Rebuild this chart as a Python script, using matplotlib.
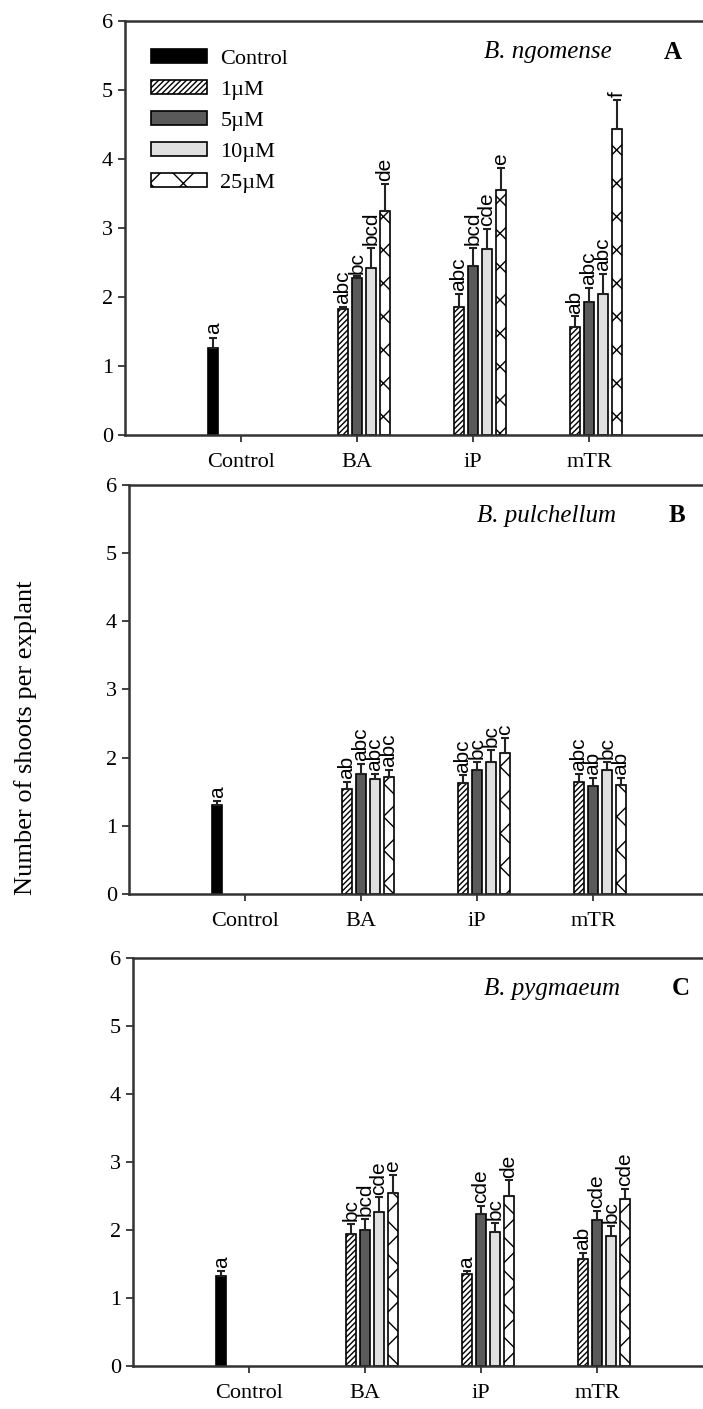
import numpy as np
import matplotlib
matplotlib.use('Agg')
import matplotlib.pyplot as plt

plt.rcParams['font.family'] = ['Liberation Serif', 'DejaVu Serif']
plt.rcParams['hatch.linewidth'] = 1.0

# categories and series
groups = ['Control', 'BA', 'iP', 'mTR']
series = ['1µM', '5µM', '10µM', '25µM']

# panel A - B. ngomense
ngo_control = 1.26
ngo_control_err = 0.15
ngo_means = {'BA': [1.83, 2.28, 2.42, 3.25],
             'iP': [1.86, 2.45, 2.70, 3.55],
             'mTR': [1.57, 1.93, 2.04, 4.43]}
ngo_err = {'BA': [0.03, 0.02, 0.29, 0.39],
           'iP': [0.18, 0.26, 0.29, 0.32],
           'mTR': [0.15, 0.20, 0.29, 0.43]}
ngo_letters = {'Control': 'a',
               'BA': ['abc', 'bc', 'bcd', 'de'],
               'iP': ['abc', 'bcd', 'cde', 'e'],
               'mTR': ['ab', 'abc', 'abc', 'f']}

# panel B - B. pulchellum
pul_control = 1.30
pul_control_err = 0.06
pul_means = {'BA': [1.54, 1.76, 1.68, 1.71],
             'iP': [1.63, 1.82, 1.94, 2.07],
             'mTR': [1.65, 1.58, 1.82, 1.60]}
pul_err = {'BA': [0.11, 0.15, 0.08, 0.11],
           'iP': [0.11, 0.12, 0.17, 0.22],
           'mTR': [0.11, 0.12, 0.12, 0.10]}
pul_letters = {'Control': 'a',
               'BA': ['ab', 'abc', 'abc', 'abc'],
               'iP': ['abc', 'bc', 'bc', 'c'],
               'mTR': ['abc', 'ab', 'bc', 'ab']}

# panel C - B. pygmaeum
pyg_control = 1.32
pyg_control_err = 0.07
pyg_means = {'BA': [1.94, 2.00, 2.26, 2.55],
             'iP': [1.35, 2.24, 1.97, 2.50],
             'mTR': [1.58, 2.15, 1.91, 2.45]}
pyg_err = {'BA': [0.15, 0.16, 0.22, 0.26],
           'iP': [0.05, 0.11, 0.14, 0.23],
           'mTR': [0.08, 0.13, 0.15, 0.15]}
pyg_letters = {'Control': 'a',
               'BA': ['bc', 'bcd', 'cde', 'e'],
               'iP': ['a', 'cde', 'bc', 'de'],
               'mTR': ['ab', 'cde', 'bc', 'cde']}

styles = [dict(facecolor='white', hatch='//////'),
          dict(facecolor='#5a5a5a'),
          dict(facecolor='#e0e0e0'),
          dict(facecolor='white', hatch='x')]

slot = 0.12
width = 0.088
spine_col = '#333333'


def draw_panel(ax, control, control_err, means, errs, letters, species, tag,
               legend=False):
    x = np.arange(1, len(groups) + 1)
    ebk = dict(ecolor='#222222', elinewidth=1.5, capsize=3, capthick=1.5)
    ax.bar(x[0] - 2 * slot, control, width, yerr=[[0], [control_err]],
           color='black', edgecolor='black', linewidth=1.2,
           label='Control', error_kw=ebk)
    ax.text(x[0] - 2 * slot, control + control_err + 0.05, letters['Control'],
            rotation=90, ha='center', va='bottom', fontsize=15,
            family='Liberation Sans')
    for i, s in enumerate(series):
        vals = [means[g][i] for g in groups[1:]]
        ers = [errs[g][i] for g in groups[1:]]
        xs = x[1:] + (i - 1) * slot
        ax.bar(xs, vals, width, yerr=[np.zeros(len(ers)), ers],
               edgecolor='black', linewidth=1.2, label=s,
               error_kw=ebk, **styles[i])
        for xi, v, e, g in zip(xs, vals, ers, groups[1:]):
            ax.text(xi, v + e + 0.04, letters[g][i], rotation=90,
                    ha='center', va='bottom', fontsize=15,
                    family='Liberation Sans')
    ax.set_xlim(0, 5)
    ax.set_ylim(0, 6)
    ax.set_xticks(x)
    ax.set_xticklabels(groups)
    ax.set_yticks(range(7))
    ax.tick_params(axis='both', labelsize=16, direction='out', length=5,
                   width=1.3, colors=spine_col, labelcolor='black')
    ax.tick_params(axis='x', pad=8)
    ax.spines['right'].set_visible(False)
    for sp in ['left', 'top', 'bottom']:
        ax.spines[sp].set_linewidth(1.8)
        ax.spines[sp].set_color(spine_col)
    ax.text(4.2, 5.55, species, style='italic', fontsize=18,
            ha='right', va='center')
    ax.text(4.72, 5.55, tag, fontweight='bold', fontsize=18,
            ha='center', va='center')
    if legend:
        ax.legend(loc='upper left', bbox_to_anchor=(0.015, 0.975),
                  frameon=False, fontsize=16, handlelength=2.5,
                  handleheight=0.6, handletextpad=0.6, labelspacing=0.5,
                  borderaxespad=0.4)


fig = plt.figure(figsize=(7.03, 14.09), dpi=100)
W = 580 / 703
axA = fig.add_axes([125 / 703, 1 - 435 / 1409, W, 414 / 1409])
axB = fig.add_axes([129 / 703, 1 - 894 / 1409, W, 409 / 1409])
axC = fig.add_axes([133 / 703, 1 - 1366 / 1409, W, 408 / 1409])

draw_panel(axA, ngo_control, ngo_control_err, ngo_means, ngo_err, ngo_letters,
           'B. ngomense', 'A', legend=True)
draw_panel(axB, pul_control, pul_control_err, pul_means, pul_err, pul_letters,
           'B. pulchellum', 'B')
draw_panel(axC, pyg_control, pyg_control_err, pyg_means, pyg_err, pyg_letters,
           'B. pygmaeum', 'C')

fig.text(26 / 703, 1 - 738 / 1409, 'Number of shoots per explant',
         rotation=90, ha='center', va='center', fontsize=19)

fig.savefig('out.png', dpi=100)
